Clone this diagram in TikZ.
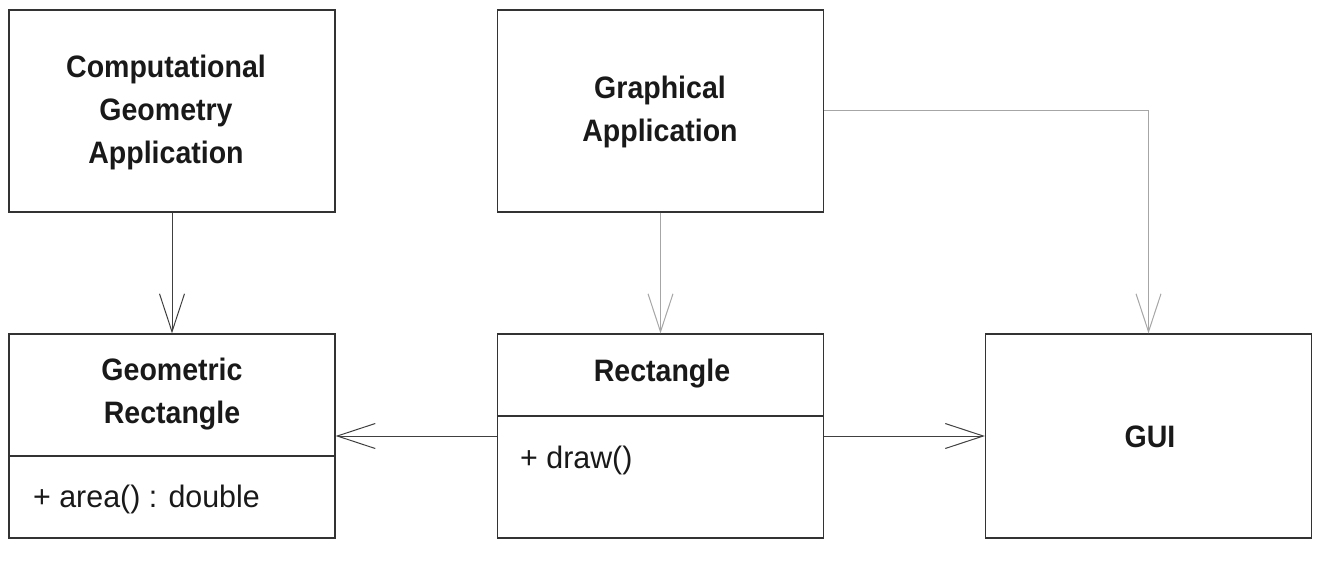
\documentclass[tikz,border=0pt]{standalone}
\usepackage{fontspec}
\setmainfont[FakeStretch=0.98]{Liberation Sans}
\newfontfamily\headfont[FakeStretch=0.92]{Liberation Sans}
\usetikzlibrary{arrows.meta}
\begin{document}
\begin{tikzpicture}[x=1pt,y=-1pt,
  box/.style={draw=black!80,line width=1.3pt,minimum width=326pt,inner sep=0pt,fill=white},
  head/.style={font=\headfont\fontsize{31}{43}\selectfont\bfseries,align=center,text=black!90},
  oper/.style={font=\fontsize{31}{36}\selectfont,anchor=base west,inner sep=0pt,text=black!90},
  barb/.style={-{Straight Barb[length=38pt,width=25pt,line width=1pt]}},
  dark/.style={barb,draw=black!75,line width=1pt},
  light/.style={barb,draw=black!35,line width=1pt}]
\useasboundingbox (0,0) rectangle (1332,560);
\fill[white] (0,0) rectangle (1332,560);
% boxes
\node[box,minimum height=202pt] (cga) at (172,111) {};
\node[head] at (166,112) {Computational\\Geometry\\Application};
\node[box,minimum height=202pt] (ga) at (660.5,111) {};
\node[head] at (660,112) {Graphical\\Application};
\node[box,minimum height=204pt] (gr) at (172,436) {};
\node[head] (grt) at (172,394) {Geometric\\Rectangle};
\node[box,minimum height=204pt] (re) at (660.5,436) {};
\node[head] (ret) at (662,374) {Rectangle};
\node[box,minimum height=204pt] (gui) at (1148.5,436) {};
\node[head] at (1150,437) {GUI};
% compartments
\draw[black!80,line width=1.3pt] (gr.west |- 0,456) -- (gr.east |- 0,456);
\draw[black!80,line width=1.3pt] (re.west |- 0,416) -- (re.east |- 0,416);
\node[oper] (area) at (33,507) {+ area() : double};
\node[oper] (draw) at (520,468) {+ draw()};
% connectors
\draw[dark] (cga.south) -- (gr.north);
\draw[light] (ga.south) -- (re.north);
\draw[light] (ga.east |- 0,110) -| (gui.north);
\draw[dark] (re.west |- 0,436) -- (gr.east |- 0,436);
\draw[dark] (re.east |- 0,436) -- (gui.west |- 0,436);
\end{tikzpicture}
\end{document}
